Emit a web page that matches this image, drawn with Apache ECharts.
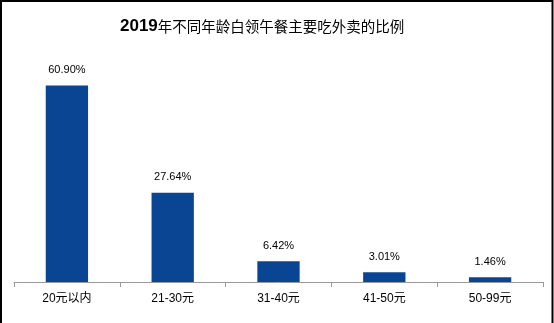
<!DOCTYPE html>
<html><head><meta charset="utf-8">
<script src="https://cdn.jsdelivr.net/npm/echarts@6/dist/echarts.min.js"></script>
<style>html,body{margin:0;padding:0;background:#fff}#c{width:554px;height:323px}</style>
</head><body><div id="c"></div>
<script>
var titleYear = '2019';
var titleRest = '年不同年龄白领午餐主要吃外卖的比例';
var categories = ['20元以内', '21-30元', '31-40元', '41-50元', '50-99元'];
var values = [60.90, 27.64, 6.42, 3.01, 1.46];

var chart = echarts.init(document.getElementById('c'));
chart.setOption({
  backgroundColor: '#fff',
  animation: false,
  title: {
    text: '{a|' + titleYear + '}{b|' + titleRest + '}',
    left: 115,
    top: 13,
    textStyle: {
      rich: {
        a: { fontSize: 17, fontWeight: 'bold', color: '#000', fontFamily: 'Arial, "Liberation Sans", sans-serif' },
        b: { fontSize: 14.5, fontWeight: 'normal', color: '#000', fontFamily: '"Noto Sans CJK SC", sans-serif' }
      }
    }
  },
  grid: { left: 14, right: 11, top: 56, bottom: 41 },
  xAxis: {
    type: 'category',
    data: categories,
    axisLine: { lineStyle: { color: '#999', width: 1 } },
    axisTick: { show: true, alignWithLabel: false, length: 5, lineStyle: { color: '#999' } },
    axisLabel: { color: '#000', fontSize: 12, margin: 11, fontFamily: 'Arial, "Liberation Sans", "Noto Sans CJK SC", sans-serif' }
  },
  yAxis: {
    type: 'value', min: 0, max: 70, show: false,
    splitLine: { show: false }
  },
  series: [{
    type: 'bar',
    data: values,
    barWidth: '40%',
    itemStyle: { color: '#0a4594' },
    label: {
      show: true, position: 'top', distance: 10,
      color: '#000', fontSize: 11,
      fontFamily: 'Arial, "Liberation Sans", sans-serif',
      formatter: function (p) { return p.value.toFixed(2) + '%'; }
    }
  }],
  graphic: [
    { type: 'polyline', shape: { points: [[1, 323], [1, 1], [552.5, 1], [552.5, 323]] }, style: { stroke: '#000', lineWidth: 2, fill: null }, silent: true }
  ]
});
</script></body></html>
